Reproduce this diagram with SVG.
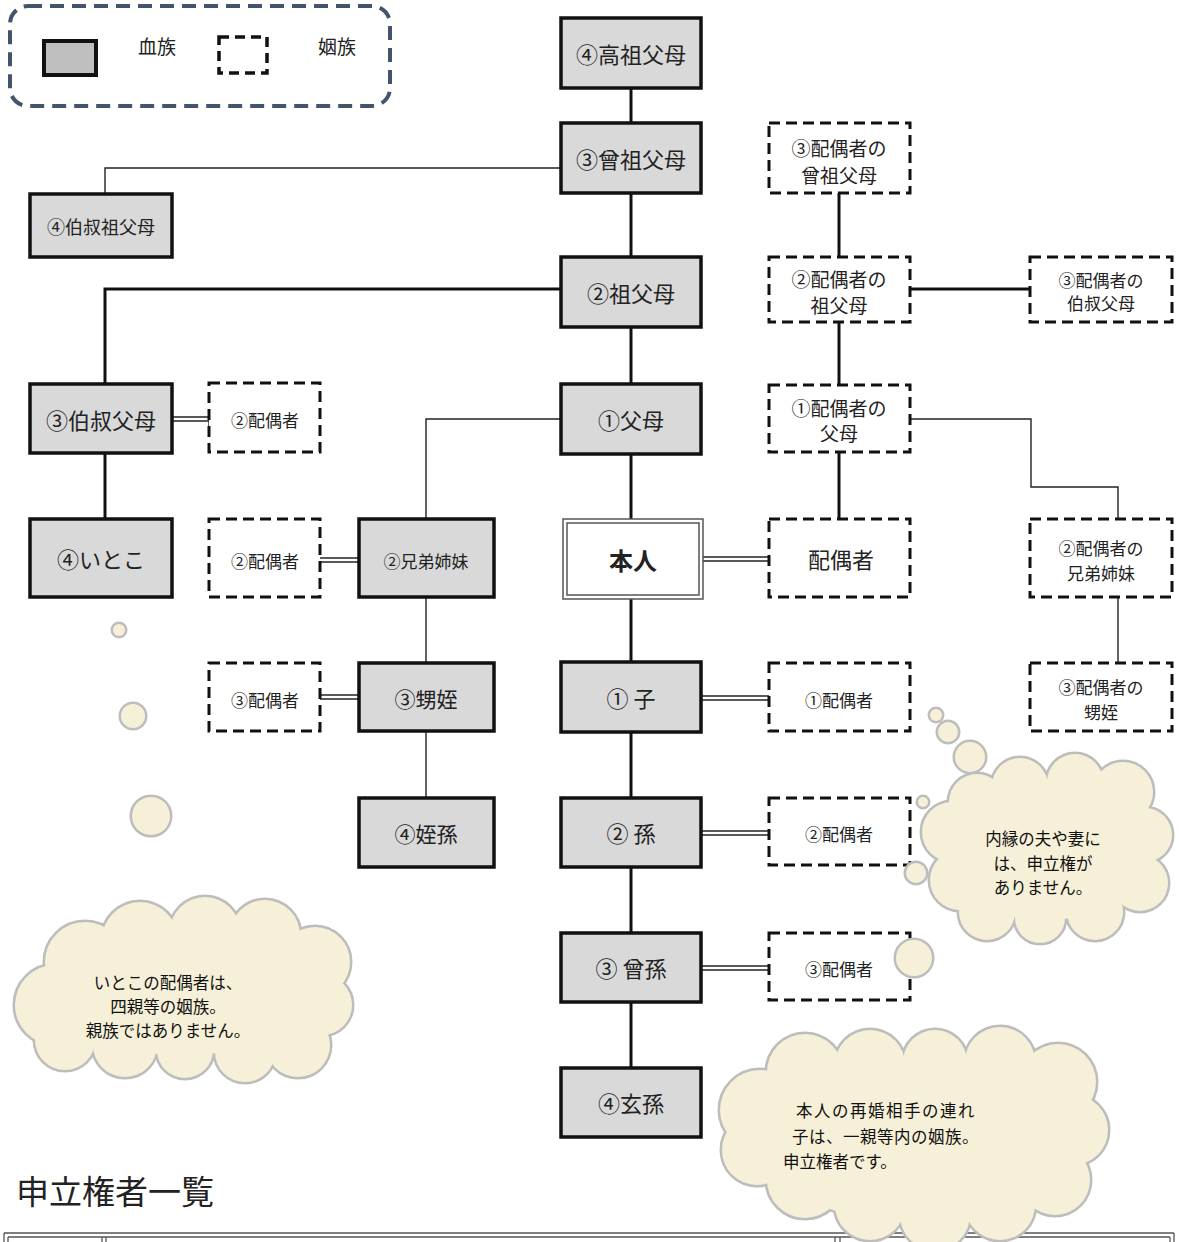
<svg xmlns="http://www.w3.org/2000/svg" width="1179" height="1242" viewBox="0 0 1179 1242">
<defs>
<style>
text{font-family:"Noto Sans CJK JP","Noto Sans",sans-serif;fill:#222;text-anchor:middle;dominant-baseline:central}
.b{fill:#d9d9d9;stroke:#111;stroke-width:3.5}
.d{fill:#fff;stroke:#111;stroke-width:3;stroke-dasharray:11 6}
.ln{stroke:#111;stroke-width:3;fill:none}
.th{stroke:#222;stroke-width:1.4;fill:none}
.cs{fill:none;stroke:#bdbdbd;stroke-width:5}
.cf{fill:#f6f0d8}
.t22{font-size:22px}
.t21{font-size:21px}
.t19{font-size:19px}
.t18{font-size:18px}
.t17{font-size:17px}
.ct{font-size:16.5px;fill:#111}
.tb{stroke:#555;stroke-width:1.3;fill:none}
</style>
</defs>
<rect width="1179" height="1242" fill="#fff"/>

<g id="legend">
<rect x="10" y="6" width="380" height="100" rx="18" fill="#fff" stroke="#44546a" stroke-width="4" stroke-dasharray="14 8"/>
<rect x="44" y="41" width="52" height="34" fill="#bfbfbf" stroke="#111" stroke-width="4"/>
<text x="157" y="45" class="t19">血族</text>
<rect x="219" y="37" width="48" height="36" fill="none" stroke="#111" stroke-width="3.5" stroke-dasharray="10 6"/>
<text x="337" y="45" class="t19">姻族</text>
</g>

<g id="connectors">
<line class="ln" x1="631" y1="88" x2="631" y2="123"/>
<line class="ln" x1="631" y1="193" x2="631" y2="257"/>
<line class="ln" x1="631" y1="327" x2="631" y2="384"/>
<line class="ln" x1="631" y1="454" x2="631" y2="519"/>
<line class="ln" x1="631" y1="599" x2="631" y2="662"/>
<line class="ln" x1="631" y1="732" x2="631" y2="798"/>
<line class="ln" x1="631" y1="867" x2="631" y2="933"/>
<line class="ln" x1="631" y1="1002" x2="631" y2="1068"/>
<polyline class="th" points="561,168 105,168 105,194"/>
<polyline class="ln" points="561,289 105,289 105,384"/>
<line class="ln" x1="105" y1="453" x2="105" y2="519"/>
<polyline class="th" points="561,419 426,419 426,519"/>
<line class="th" x1="426" y1="597" x2="426" y2="663"/>
<line class="th" x1="426" y1="731" x2="426" y2="798"/>
<line class="ln" x1="839" y1="193" x2="839" y2="257"/>
<line class="ln" x1="839" y1="322" x2="839" y2="385"/>
<line class="ln" x1="839" y1="452" x2="839" y2="519"/>
<line class="ln" x1="910" y1="289" x2="1030" y2="289"/>
<polyline class="th" points="910,419 1031,419 1031,487 1118,487 1118,519"/>
<line class="th" x1="1118" y1="597" x2="1118" y2="663"/>
<g class="th">
<line x1="172" y1="417" x2="209" y2="417"/><line x1="172" y1="421" x2="209" y2="421"/><line x1="209" y1="412" x2="209" y2="426"/>
<line x1="320" y1="558" x2="359" y2="558"/><line x1="320" y1="562" x2="359" y2="562"/>
<line x1="320" y1="695" x2="359" y2="695"/><line x1="320" y1="699" x2="359" y2="699"/>
<line x1="703" y1="557" x2="769" y2="557"/><line x1="703" y1="561" x2="769" y2="561"/>
<line x1="701" y1="696" x2="769" y2="696"/><line x1="701" y1="700" x2="769" y2="700"/>
<line x1="701" y1="831" x2="769" y2="831"/><line x1="701" y1="835" x2="769" y2="835"/>
<line x1="701" y1="966" x2="769" y2="966"/><line x1="701" y1="970" x2="769" y2="970"/>
</g>
</g>

<g id="n-kouso"><rect class="b" x="561" y="18" width="140" height="70"/><text x="631" y="53" class="t22">④高祖父母</text></g>
<g id="n-souso"><rect class="b" x="561" y="123" width="140" height="70"/><text x="631" y="158" class="t22">③曾祖父母</text></g>
<g id="n-sofubo"><rect class="b" x="561" y="257" width="140" height="70"/><text x="631" y="292" class="t22">②祖父母</text></g>
<g id="n-fubo"><rect class="b" x="561" y="384" width="140" height="70"/><text x="631" y="419" class="t22">①父母</text></g>
<g id="n-honnin"><rect x="563" y="519" width="140" height="80" fill="#fff" stroke="#555" stroke-width="1.5"/><rect x="567" y="523" width="132" height="72" fill="none" stroke="#555" stroke-width="1.5"/><text x="633" y="559" font-size="24" font-weight="bold">本人</text></g>
<g id="n-ko"><rect class="b" x="561" y="662" width="140" height="70"/><text x="631" y="697" class="t22">①  子</text></g>
<g id="n-mago"><rect class="b" x="561" y="798" width="140" height="69"/><text x="631" y="832" class="t22">②  孫</text></g>
<g id="n-himago"><rect class="b" x="561" y="933" width="140" height="69"/><text x="631" y="967" class="t22">③  曾孫</text></g>
<g id="n-genson"><rect class="b" x="561" y="1068" width="140" height="69"/><text x="631" y="1102" class="t22">④玄孫</text></g>

<g id="n-hakushukusofubo"><rect class="b" x="30" y="194" width="142" height="63"/><text x="101" y="226" class="t18">④伯叔祖父母</text></g>
<g id="n-hakushukufubo"><rect class="b" x="30" y="384" width="142" height="69"/><text x="101" y="419" class="t22">③伯叔父母</text></g>
<g id="n-hakushuku-spouse"><rect class="d" x="209" y="383" width="111" height="69"/><text x="265" y="419" class="t17">②配偶者</text></g>
<g id="n-itoko"><rect class="b" x="30" y="519" width="142" height="78"/><text x="101" y="558" class="t22">④いとこ</text></g>
<g id="n-kyodai-spouse"><rect class="d" x="209" y="519" width="111" height="78"/><text x="265" y="560" class="t17">②配偶者</text></g>
<g id="n-kyodai"><rect class="b" x="359" y="519" width="135" height="78"/><text x="426" y="560" class="t17">②兄弟姉妹</text></g>
<g id="n-oimei-spouse"><rect class="d" x="209" y="663" width="111" height="68"/><text x="265" y="699" class="t17">③配偶者</text></g>
<g id="n-oimei"><rect class="b" x="359" y="663" width="135" height="68"/><text x="426" y="698" class="t21">③甥姪</text></g>
<g id="n-tetsuson"><rect class="b" x="359" y="798" width="135" height="69"/><text x="426" y="833" class="t21">④姪孫</text></g>

<g id="n-s-souso"><rect class="d" x="769" y="123" width="141" height="70"/><text x="839" y="147" class="t19">③配偶者の</text><text x="839" y="174" class="t19">曾祖父母</text></g>
<g id="n-s-sofubo"><rect class="d" x="769" y="257" width="141" height="65"/><text x="839" y="278" class="t19">②配偶者の</text><text x="839" y="304" class="t19">祖父母</text></g>
<g id="n-s-hakushuku"><rect class="d" x="1030" y="257" width="142" height="65"/><text x="1101" y="279" class="t17">③配偶者の</text><text x="1101" y="302" class="t17">伯叔父母</text></g>
<g id="n-s-fubo"><rect class="d" x="769" y="385" width="141" height="67"/><text x="839" y="407" class="t19">①配偶者の</text><text x="839" y="432" class="t19">父母</text></g>
<g id="n-spouse"><rect class="d" x="769" y="519" width="141" height="78"/><text x="841" y="558" class="t22">配偶者</text></g>
<g id="n-s-kyodai"><rect class="d" x="1030" y="519" width="142" height="78"/><text x="1101" y="547" class="t17">②配偶者の</text><text x="1101" y="572" class="t17">兄弟姉妹</text></g>
<g id="n-s-oimei"><rect class="d" x="1030" y="663" width="142" height="68"/><text x="1101" y="686" class="t17">③配偶者の</text><text x="1101" y="711" class="t17">甥姪</text></g>
<g id="n-ko-spouse"><rect class="d" x="769" y="663" width="141" height="68"/><text x="839" y="699" class="t17">①配偶者</text></g>
<g id="n-mago-spouse"><rect class="d" x="769" y="798" width="141" height="67"/><text x="839" y="833" class="t17">②配偶者</text></g>
<g id="n-himago-spouse"><rect class="d" x="769" y="933" width="141" height="67"/><text x="839" y="968" class="t17">③配偶者</text></g>

<text x="16" y="1190" font-size="33" style="text-anchor:start">申立権者一覧</text>
<g id="table" class="tb">
<line x1="4" y1="1233" x2="1174" y2="1233"/>
<line x1="8" y1="1237" x2="1170" y2="1237"/>
<line x1="4" y1="1233" x2="4" y2="1242"/><line x1="8" y1="1237" x2="8" y2="1242"/>
<line x1="102" y1="1237" x2="102" y2="1242"/><line x1="106" y1="1237" x2="106" y2="1242"/>
<line x1="835" y1="1237" x2="835" y2="1242"/><line x1="840" y1="1237" x2="840" y2="1242"/>
<line x1="1170" y1="1237" x2="1170" y2="1242"/><line x1="1174" y1="1233" x2="1174" y2="1242"/>
</g>

<g id="cloud-left">
<g class="cs">
<circle cx="119" cy="630" r="6"/><circle cx="133" cy="716" r="12"/><circle cx="151" cy="816" r="19"/>
<ellipse cx="183" cy="990" rx="140" ry="65"/>
<circle cx="55" cy="1005" r="40"/><circle cx="85" cy="962" r="40"/><circle cx="140" cy="940" r="38"/><circle cx="205" cy="932" r="35"/><circle cx="265" cy="935" r="35"/><circle cx="315" cy="962" r="35"/><circle cx="322" cy="1005" r="30"/><circle cx="298" cy="1045" r="32"/><circle cx="245" cy="1052" r="30"/><circle cx="185" cy="1050" r="28"/><circle cx="125" cy="1045" r="32"/><circle cx="65" cy="1040" r="30"/>
</g>
<g class="cf">
<circle cx="119" cy="630" r="6"/><circle cx="133" cy="716" r="12"/><circle cx="151" cy="816" r="19"/>
<ellipse cx="183" cy="990" rx="140" ry="65"/>
<circle cx="55" cy="1005" r="40"/><circle cx="85" cy="962" r="40"/><circle cx="140" cy="940" r="38"/><circle cx="205" cy="932" r="35"/><circle cx="265" cy="935" r="35"/><circle cx="315" cy="962" r="35"/><circle cx="322" cy="1005" r="30"/><circle cx="298" cy="1045" r="32"/><circle cx="245" cy="1052" r="30"/><circle cx="185" cy="1050" r="28"/><circle cx="125" cy="1045" r="32"/><circle cx="65" cy="1040" r="30"/>
</g>
<text x="168" y="982" class="ct">いとこの配偶者は、</text>
<text x="168" y="1006" class="ct">四親等の姻族。</text>
<text x="168" y="1030" class="ct">親族ではありません。</text>
</g>

<g id="cloud-right">
<g class="cs">
<circle cx="936" cy="715" r="6"/><circle cx="948" cy="732" r="10"/><circle cx="970" cy="757" r="15"/><circle cx="923" cy="802" r="5"/><circle cx="914" cy="958" r="18"/>
<ellipse cx="1045" cy="850" rx="105" ry="70"/>
<circle cx="916" cy="873" r="10"/>
<circle cx="952" cy="832" r="30"/><circle cx="960" cy="880" r="30"/><circle cx="987" cy="912" r="28"/><circle cx="1040" cy="918" r="25"/><circle cx="1095" cy="912" r="28"/><circle cx="1140" cy="883" r="28"/><circle cx="1145" cy="835" r="27"/><circle cx="1123" cy="792" r="30"/><circle cx="1075" cy="782" r="28"/><circle cx="1020" cy="786" r="28"/><circle cx="977" cy="802" r="28"/>
</g>
<g class="cf">
<circle cx="936" cy="715" r="6"/><circle cx="948" cy="732" r="10"/><circle cx="970" cy="757" r="15"/><circle cx="923" cy="802" r="5"/><circle cx="914" cy="958" r="18"/>
<ellipse cx="1045" cy="850" rx="105" ry="70"/>
<circle cx="916" cy="873" r="10"/>
<circle cx="952" cy="832" r="30"/><circle cx="960" cy="880" r="30"/><circle cx="987" cy="912" r="28"/><circle cx="1040" cy="918" r="25"/><circle cx="1095" cy="912" r="28"/><circle cx="1140" cy="883" r="28"/><circle cx="1145" cy="835" r="27"/><circle cx="1123" cy="792" r="30"/><circle cx="1075" cy="782" r="28"/><circle cx="1020" cy="786" r="28"/><circle cx="977" cy="802" r="28"/>
</g>
<text x="1043" y="838" class="ct">内縁の夫や妻に</text>
<text x="1043" y="863" class="ct">は、申立権が</text>
<text x="1043" y="887" class="ct">ありません。</text>
</g>

<g id="cloud-bottom">
<g class="cs">
<ellipse cx="915" cy="1140" rx="170" ry="80"/>
<circle cx="760" cy="1110" r="40"/><circle cx="805" cy="1072" r="38"/><circle cx="870" cy="1065" r="35"/><circle cx="935" cy="1062" r="32"/><circle cx="1000" cy="1062" r="35"/><circle cx="1058" cy="1082" r="38"/><circle cx="1073" cy="1130" r="35"/><circle cx="1055" cy="1180" r="35"/><circle cx="1000" cy="1205" r="35"/><circle cx="935" cy="1215" r="35"/><circle cx="870" cy="1205" r="35"/><circle cx="805" cy="1180" r="38"/><circle cx="757" cy="1150" r="35"/>
</g>
<g class="cf">
<ellipse cx="915" cy="1140" rx="170" ry="80"/>
<circle cx="760" cy="1110" r="40"/><circle cx="805" cy="1072" r="38"/><circle cx="870" cy="1065" r="35"/><circle cx="935" cy="1062" r="32"/><circle cx="1000" cy="1062" r="35"/><circle cx="1058" cy="1082" r="38"/><circle cx="1073" cy="1130" r="35"/><circle cx="1055" cy="1180" r="35"/><circle cx="1000" cy="1205" r="35"/><circle cx="935" cy="1215" r="35"/><circle cx="870" cy="1205" r="35"/><circle cx="805" cy="1180" r="38"/><circle cx="757" cy="1150" r="35"/>
</g>
<text x="796" y="1110" class="ct" style="text-anchor:start" letter-spacing="1.5">本人の再婚相手の連れ</text>
<text x="792" y="1136" class="ct" style="text-anchor:start" letter-spacing="0.5">子は、一親等内の姻族。</text>
<text x="783" y="1161" class="ct" style="text-anchor:start">申立権者です。</text>
</g>
</svg>
